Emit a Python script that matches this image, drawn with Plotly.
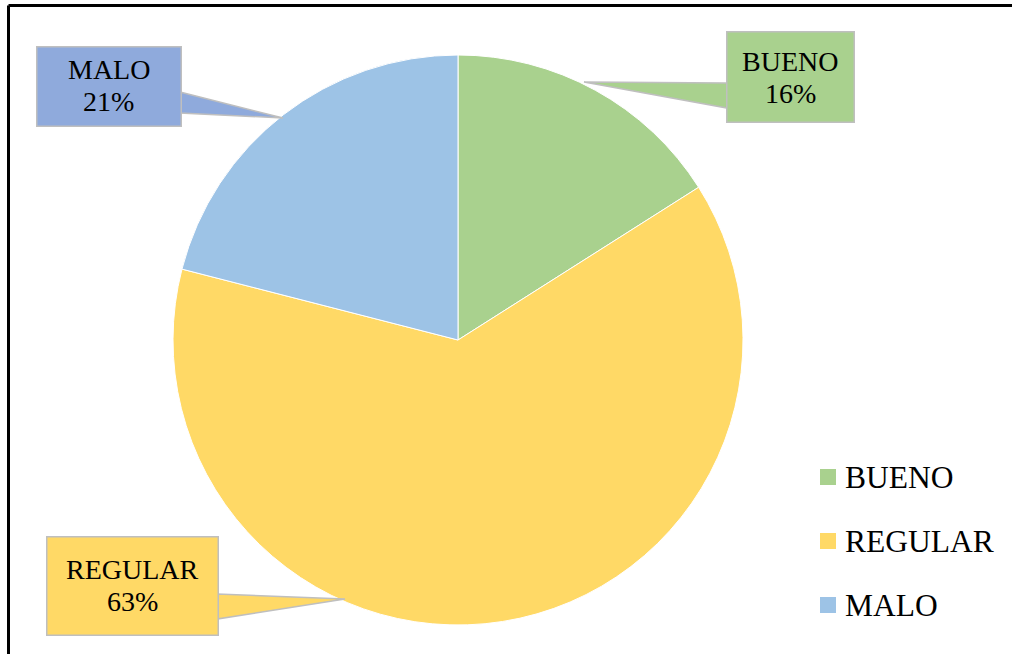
import plotly.graph_objects as go

labels = ["BUENO", "REGULAR", "MALO"]
values = [16, 63, 21]
slice_colors = ["#A9D18E", "#FFD966", "#9DC3E6"]
box_colors = ["#A9D18E", "#FFD966", "#8FAADC"]

W, H = 1012, 654
FONT = "Liberation Serif, Times New Roman, serif"

def px(x):
    return x / W

def py(y):
    return 1 - y / H

fig = go.Figure()
fig.add_trace(go.Pie(
    labels=labels,
    values=values,
    sort=False,
    direction="clockwise",
    rotation=0,
    marker=dict(colors=slice_colors, line=dict(color="white", width=1)),
    textinfo="none",
    hoverinfo="label+percent",
    showlegend=False,
    domain=dict(x=[px(173), px(743)], y=[py(625), py(55)]),
))

total = sum(values)
# label boxes (center x, center y, width, height) and callout wedges
boxes = {
    "BUENO": (790, 77.5, 128, 91),
    "REGULAR": (132, 585.5, 172, 99),
    "MALO": (108.5, 86, 145, 80),
}
wedges = {
    "BUENO": [(727, 83), (584, 82), (727, 108)],
    "REGULAR": [(217, 594), (345, 599), (217, 619)],
    "MALO": [(180, 92), (283, 118), (180, 113)],
}

shapes = []
annotations = []
for lab, val, col in zip(labels, values, box_colors):
    pts = wedges[lab]
    path = "M " + " L ".join(f"{px(x)} {py(y)}" for x, y in pts) + " Z"
    shapes.append(dict(type="path", xref="paper", yref="paper", path=path,
                       fillcolor=col, line=dict(color="#BFBFBF", width=1.5), layer="above"))
    cx, cy, bw, bh = boxes[lab]
    pct = round(100 * val / total)
    # box
    annotations.append(dict(
        x=px(cx), y=py(cy), xref="paper", yref="paper",
        xanchor="center", yanchor="middle", showarrow=False,
        text=" ", font=dict(family=FONT, size=10),
        bgcolor=col, bordercolor="#BFBFBF", borderwidth=1.5, borderpad=0,
        width=bw - 2, height=bh - 2,
    ))
    # two text lines
    for txt, dy in ((lab, -16), (f"{pct}%", 16)):
        annotations.append(dict(
            x=px(cx), y=py(cy + dy), xref="paper", yref="paper",
            xanchor="center", yanchor="middle", showarrow=False,
            text=txt, font=dict(family=FONT, size=28, color="#000000"),
        ))

# manual legend
leg_y = [477, 541, 605]
for lab, col, ly in zip(labels, slice_colors, leg_y):
    shapes.append(dict(type="rect", xref="paper", yref="paper",
                       x0=px(820), x1=px(836), y0=py(ly + 8), y1=py(ly - 8),
                       fillcolor=col, line=dict(width=0)))
    annotations.append(dict(
        x=px(843), y=py(ly), xref="paper", yref="paper",
        xanchor="left", yanchor="middle", showarrow=False,
        text=lab, font=dict(family=FONT, size=31.5, color="#000000"),
    ))

# frame lines (top and left)
shapes.append(dict(type="line", xref="paper", yref="paper",
                   x0=px(8.5), x1=1, y0=py(5.5), y1=py(5.5),
                   line=dict(color="#000000", width=3)))
shapes.append(dict(type="line", xref="paper", yref="paper",
                   x0=px(8.5), x1=px(8.5), y0=py(5.5), y1=0,
                   line=dict(color="#000000", width=3)))

fig.update_layout(
    width=W, height=H,
    margin=dict(l=0, r=0, t=0, b=0),
    paper_bgcolor="white", plot_bgcolor="white",
    shapes=shapes, annotations=annotations,
    showlegend=False,
)

fig.write_html("out.html", config={"displayModeBar": False},
               post_script="document.body.style.margin='0';document.body.style.overflow='hidden';")
